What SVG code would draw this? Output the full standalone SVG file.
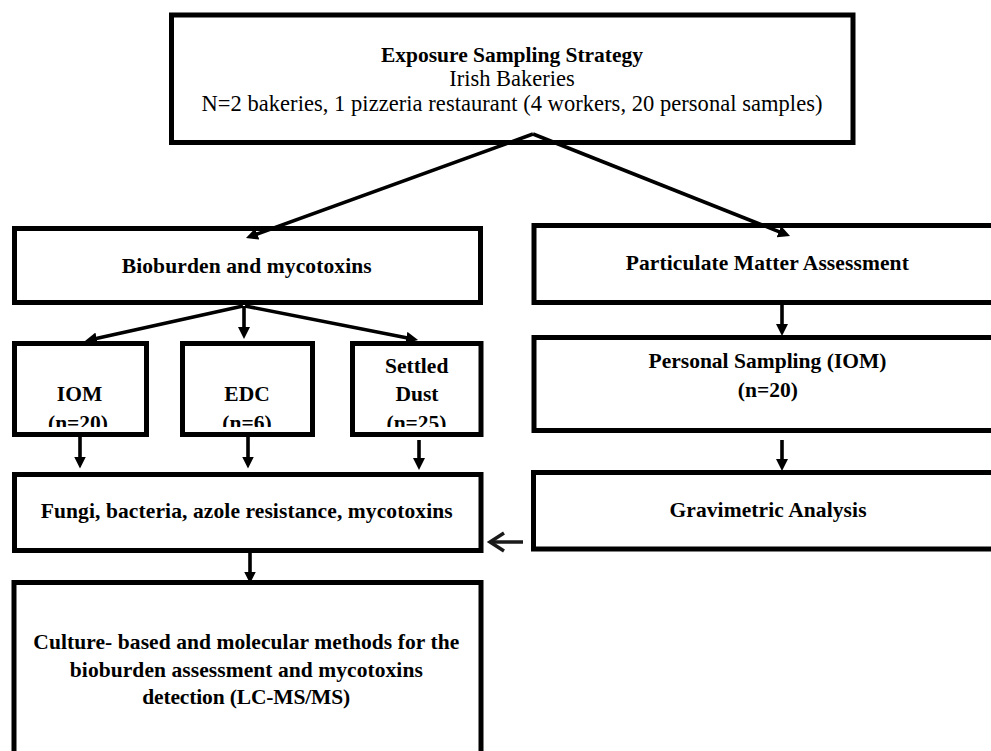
<svg xmlns="http://www.w3.org/2000/svg" width="991" height="751" viewBox="0 0 991 751">
<style>
.box{fill:#fff;stroke:#000;stroke-width:5}
.t{font-family:"Liberation Serif","Times New Roman",serif;fill:#000;text-anchor:middle}
.b{font-weight:bold;font-size:21.5px}
.r{font-size:22.5px}
.c{stroke:#000;stroke-width:3.6;fill:none}
</style>
<defs>
<marker id="ah" markerUnits="userSpaceOnUse" markerWidth="12" markerHeight="12" viewBox="0 0 12 12" refX="4" refY="6" orient="auto">
<path d="M0,0 L12,6 L0,12 z" fill="#000"/>
</marker>
<marker id="oh" markerUnits="userSpaceOnUse" markerWidth="20" markerHeight="24" viewBox="0 0 20 24" refX="15" refY="12" orient="auto">
<polyline points="2,3 16,12 2,21" fill="none" stroke="#1a1a1a" stroke-width="3.5"/>
</marker>
<clipPath id="clipSmall"><rect x="0" y="340" width="500" height="87"/></clipPath>
</defs>
<rect width="991" height="751" fill="#fff"/>

<g id="top">
<rect class="box" x="171.5" y="15" width="681.5" height="127.5"/>
<text class="t b" x="512" y="62" textLength="262" lengthAdjust="spacing">Exposure Sampling Strategy</text>
<text class="t r" x="512" y="86">Irish Bakeries</text>
<text class="t r" x="512" y="111" textLength="621" lengthAdjust="spacing">N=2 bakeries, 1 pizzeria restaurant (4 workers, 20 personal samples)</text>
</g>

<g id="bioburden">
<rect class="box" x="14.5" y="228.5" width="466" height="74"/>
<text class="t b" x="246.7" y="273" textLength="250" lengthAdjust="spacing">Bioburden and mycotoxins</text>
</g>

<g id="particulate">
<rect class="box" x="534" y="225.5" width="470" height="77"/>
<text class="t b" x="767.3" y="270" textLength="283" lengthAdjust="spacing">Particulate Matter Assessment</text>
</g>

<g id="iom">
<rect class="box" x="14.5" y="343.5" width="132" height="91"/>
<g clip-path="url(#clipSmall)">
<text class="t b" x="79.5" y="400.5">IOM</text>
<text class="t b" x="78" y="430">(n=20)</text>
</g>
</g>

<g id="edc">
<rect class="box" x="182.5" y="343.5" width="130" height="91"/>
<g clip-path="url(#clipSmall)">
<text class="t b" x="247" y="400.5">EDC</text>
<text class="t b" x="247" y="430">(n=6)</text>
</g>
</g>

<g id="settled">
<rect class="box" x="352.5" y="343.5" width="128.5" height="91"/>
<g clip-path="url(#clipSmall)">
<text class="t b" x="416.7" y="373">Settled</text>
<text class="t b" x="417" y="400.5">Dust</text>
<text class="t b" x="416.5" y="430">(n=25)</text>
</g>
</g>

<g id="personal">
<rect class="box" x="534" y="337.5" width="470" height="93"/>
<text class="t b" x="767.5" y="368.3" textLength="238" lengthAdjust="spacing">Personal Sampling (IOM)</text>
<text class="t b" x="767.8" y="396.7">(n=20)</text>
</g>

<g id="fungi">
<rect class="box" x="14.5" y="474.5" width="466.5" height="76"/>
<text class="t b" x="246.7" y="518.3" textLength="412" lengthAdjust="spacing">Fungi, bacteria, azole resistance, mycotoxins</text>
</g>

<g id="gravimetric">
<rect class="box" x="533.5" y="472.5" width="470" height="76.5"/>
<text class="t b" x="768" y="517.3" textLength="197" lengthAdjust="spacing">Gravimetric Analysis</text>
</g>

<g id="culture">
<rect class="box" x="14" y="582.5" width="467" height="200"/>
<text class="t b" x="246.3" y="649" textLength="426" lengthAdjust="spacing">Culture- based and molecular methods for the</text>
<text class="t b" x="246.3" y="676.5" textLength="353" lengthAdjust="spacing">bioburden assessment and mycotoxins</text>
<text class="t b" x="246.2" y="704" textLength="208" lengthAdjust="spacing">detection (LC-MS/MS)</text>
</g>

<g id="connectors">
<line class="c" x1="533" y1="134" x2="253.5" y2="235.3" marker-end="url(#ah)"/>
<line class="c" x1="533" y1="134" x2="782.6" y2="233.1" marker-end="url(#ah)"/>
<line class="c" x1="243" y1="306" x2="92.8" y2="339.3" marker-end="url(#ah)"/>
<line class="c" x1="244" y1="306" x2="244" y2="331" marker-end="url(#ah)"/>
<line class="c" x1="245" y1="306" x2="410.2" y2="338.5" marker-end="url(#ah)"/>
<line class="c" x1="80" y1="436" x2="80" y2="460.5" marker-end="url(#ah)"/>
<line class="c" x1="248" y1="436" x2="248" y2="460.5" marker-end="url(#ah)"/>
<line class="c" x1="419" y1="440" x2="419" y2="462" marker-end="url(#ah)"/>
<line class="c" x1="250" y1="552" x2="250" y2="575.5" marker-end="url(#ah)"/>
<line class="c" x1="782" y1="303" x2="782" y2="328" marker-end="url(#ah)"/>
<line class="c" x1="782" y1="440" x2="782" y2="463" marker-end="url(#ah)"/>
<line x1="523" y1="542" x2="491" y2="542" stroke="#1a1a1a" stroke-width="3.5" marker-end="url(#oh)"/>
</g>
</svg>
